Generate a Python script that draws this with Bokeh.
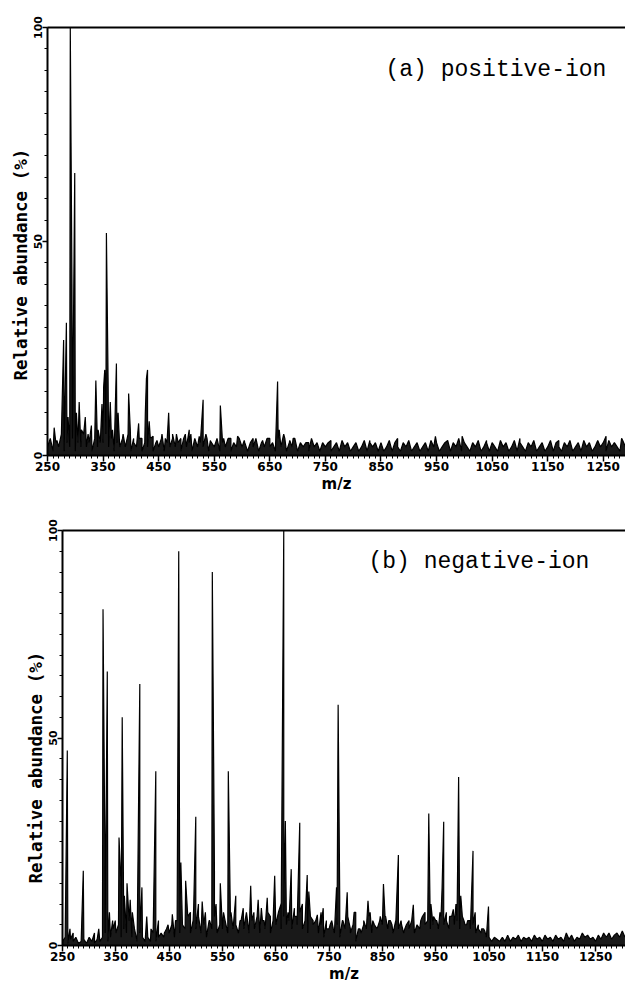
import math
import numpy as np
from bokeh.plotting import figure
from bokeh.models import Range1d, FixedTicker, LinearAxis, Label, ColumnDataSource, Title
from bokeh.embed import file_html
from bokeh.resources import INLINE

# ---------------- axis tick values ----------------
X_MAJOR = [250, 350, 450, 550, 650, 750, 850, 950, 1050, 1150, 1250]
X_MINOR = list(range(250, 1310, 10))
Y_MAJOR = [0, 50, 100]
Y_MINOR = list(range(0, 101, 5))

# ---------------- (a) positive-ion ----------------
pos_peak_mz = [262, 267, 279, 284, 287, 291, 294, 299, 302, 307, 311, 318, 323, 329,
               337, 341, 348, 351, 353, 356, 359, 363, 367, 374, 377, 386, 396, 399,
               405, 414, 420, 426, 428, 430, 433, 440, 447, 456, 462, 468, 475, 482,
               490, 498, 505, 508, 515, 523, 530, 537, 543, 555, 561, 567, 580, 592,
               604, 620, 637, 650, 664, 667, 677, 686, 692, 720, 760, 830, 880, 948,
               996, 1040, 1100, 1170, 1255, 1283]
pos_peak_int = [6.5, 3.5, 27, 31, 9, 100, 40, 66, 10, 12.5, 6, 9, 5, 7,
                17.5, 6, 12, 16, 20, 52, 18, 12.5, 6, 21.5, 10, 5, 14.5, 6,
                4, 7.5, 4, 10, 18, 20, 8, 4.5, 3.5, 5, 4, 10, 4, 5,
                4, 5, 6, 5, 4, 4.5, 13, 4, 3.5, 4, 11.7, 4, 4, 4.5,
                3.5, 4, 3.5, 4, 17.3, 6, 4, 3.5, 4, 3, 3.5, 3.5, 4, 4.5,
                4.5, 3.5, 4, 3.5, 4.5, 4]
# baseline trace, one reading every 5 m/z from 250
pos_noise_int = [2, 4, 1, 3, 2, 5, 1, 3, 2, 4, 1, 3, 2, 5, 2, 3, 1, 4, 2, 3,
                 3, 5, 2, 4, 1, 3, 2, 4, 2, 5, 1, 3, 2, 4, 1, 3, 2, 4, 1, 3,
                 2, 4, 1, 3, 2, 5, 2, 3, 1, 4, 2, 3, 1, 4, 2, 3, 2, 5, 1, 3,
                 2, 4, 1, 3, 2, 4, 1, 3, 2, 4, 2, 3, 1, 3, 2, 4, 1, 3, 2, 4,
                 2, 3, 1, 4, 2, 5, 1, 3, 2, 4, 1, 3, 2, 3, 1, 4, 2, 3, 1, 3,
                 2, 3, 1, 2, 3, 1, 3.5, 2, 3, 1, 2, 3, 1, 2, 3.5, 1, 3, 2, 3, 1,
                 3, 1, 2, 3.5, 1, 3, 2, 1, 3, 2, 3.5, 1, 2, 3, 1, 2, 3, 1, 3.5, 2,
                 3, 1, 2, 3, 3.5, 1, 3, 2, 4, 1, 3, 2, 1, 3, 2, 3.5, 1, 2, 3, 1,
                 3, 2, 1, 3.5, 2, 3, 1, 2, 3.5, 1, 3, 2, 1, 3, 2, 3.5, 1, 2, 3, 1,
                 2, 3.5, 1, 3, 2, 1, 3, 2, 3.5, 1, 2, 3, 1, 3.5, 2, 3, 1, 2, 3.5, 2,
                 3, 1, 3.5, 2, 3, 2, 1, 3.5, 2]

# ---------------- (b) negative-ion ----------------
neg_peak_mz = [259, 264, 270, 289, 300, 310, 318, 326, 330, 334, 338, 344, 349, 356,
               360, 362, 366, 371, 377, 381, 395, 399, 408, 416, 425, 430, 441, 448,
               456, 462, 468, 472, 481, 490, 496, 500, 505, 512, 518, 526, 531, 535,
               538, 546, 552, 561, 566, 575, 583, 589, 596, 603, 609, 617, 623, 628,
               634, 640, 648, 655, 660, 665, 668, 673, 679, 685, 690, 695, 700, 709,
               712, 720, 728, 735, 739, 745, 752, 758, 764, 767, 770, 776, 784, 790,
               797, 800, 808, 815, 823, 827, 832, 840, 846, 852, 856, 862, 868, 875,
               880, 886, 892, 900, 908, 915, 922, 930, 937, 941, 946, 952, 958, 962,
               965, 970, 976, 983, 988, 993, 997, 1003, 1008, 1014, 1020, 1024, 1030,
               1036, 1042, 1049]
neg_peak_int = [47, 4, 3, 18, 2, 3, 4, 81, 14, 66, 8, 6, 6, 26,
                14, 55, 12, 15, 11, 8, 63, 14, 7, 4, 42, 6, 3, 5,
                7.5, 6, 95, 20, 15.6, 8, 9, 31, 10, 10.6, 8, 6, 90, 18,
                10, 15, 8, 42, 8, 12, 6, 9, 7, 14.4, 8, 11, 9, 6,
                11.5, 7, 16.8, 8, 10, 100, 30, 8, 18.4, 9, 7, 29.6, 10, 17,
                13, 6, 7.4, 8, 9, 6, 5, 4, 14, 58, 11.5, 6, 12.8, 4,
                8, 8, 4, 5, 10.8, 8, 6, 4, 7, 14.8, 7, 6, 5, 6,
                21.8, 5, 4, 6, 9.8, 5, 6, 8, 31.8, 10, 7, 6, 8, 14,
                29.8, 8, 7, 8.7, 10, 40.6, 12, 6, 5, 6, 22.8, 8, 5,
                4, 3.5, 9.4]
neg_noise_int = [1, 2, 0.5, 1.5, 1, 2, 0.5, 1, 1.5, 0.5, 2, 1, 0.5, 1.5, 1, 2, 3, 1, 2, 4,
                 3, 5, 2, 4, 3, 6, 2, 4, 1, 3, 2, 1, 2, 1, 3, 1, 2, 3, 2, 4,
                 3, 5, 2, 6, 3, 5, 4, 7, 3, 6, 4, 7, 3, 5, 2, 6, 4, 7, 3, 5,
                 4, 6, 3, 7, 4, 5, 3, 6, 4, 8, 3, 6, 4, 7, 3, 6, 4, 8, 3, 6,
                 5, 8, 4, 7, 5, 6, 4, 7, 5, 8, 4, 6, 3, 7, 5, 6, 3, 5, 2, 4,
                 4, 6, 3, 5, 2, 6, 4, 7, 3, 5, 1, 4, 3, 6, 4, 7, 3, 5, 4, 6,
                 5, 7, 4, 6, 3, 5, 4, 6, 3, 5, 4, 6, 3, 5, 4, 7, 5, 6, 4, 5,
                 6, 4, 7, 5, 6, 4, 7, 5, 6, 4, 7, 5, 6, 4, 5, 3, 4, 3, 4, 2,
                 2, 1, 2, 1.5, 1, 2, 1, 2.5, 1, 2, 1.5, 2.5, 1, 2, 1.5, 2, 1, 2.5, 1.5, 2,
                 1, 2.5, 1.5, 2, 1, 2.5, 1.5, 2, 1, 3, 1.5, 2.5, 1, 2, 1.5, 3, 2, 2.5, 1.5, 2,
                 1, 2.5, 1.5, 3, 2, 3, 1.5, 2.5, 3, 2, 3.5, 2]

NOISE_START, NOISE_STEP = 250, 5


def make_panel(peak_mz, peak_int, noise_int, x_end, width, height, border_left,
               border_top, border_bottom, title, title_pos, ylab_offset):
    noise_mz = NOISE_START + NOISE_STEP * np.arange(len(noise_int))
    mz = np.concatenate([np.asarray(peak_mz, float), noise_mz.astype(float)])
    rel = np.concatenate([np.asarray(peak_int, float), np.asarray(noise_int, float)])
    order = np.argsort(mz, kind="stable")
    src = ColumnDataSource(dict(mz=mz[order], rel=rel[order], zero=np.zeros(len(mz))))

    p = figure(width=width, height=height,
               x_range=Range1d(250, x_end), y_range=Range1d(0, 100),
               output_backend="svg", toolbar_location=None,
               min_border_left=border_left, min_border_top=border_top,
               min_border_right=0, min_border_bottom=border_bottom)
    p.background_fill_color = "white"
    p.border_fill_color = "white"
    p.outline_line_color = None
    p.grid.visible = False

    p.varea(x="mz", y1="zero", y2="rel", source=src, fill_color="black", fill_alpha=0.9)
    p.line("mz", "rel", source=src, line_color="black", line_width=1.2)

    xa = p.xaxis[0]
    xa.ticker = FixedTicker(ticks=X_MAJOR, minor_ticks=X_MINOR)
    xa.axis_line_width = 2
    xa.major_tick_line_width = 1.5
    xa.major_tick_out = 6
    xa.major_tick_in = 0
    xa.minor_tick_out = 3
    xa.minor_tick_in = 0
    xa.major_label_standoff = 0
    xa.major_label_text_font = "DejaVu Sans"
    xa.major_label_text_font_style = "bold"
    xa.major_label_text_font_size = "12px"
    xa.major_label_text_color = "black"
    xa.axis_label = "m/z"
    xa.axis_label_standoff = 1
    xa.axis_label_text_font = "DejaVu Sans"
    xa.axis_label_text_font_style = "bold"
    xa.axis_label_text_font_size = "15px"
    xa.axis_label_text_color = "black"

    ya = p.yaxis[0]
    ya.ticker = FixedTicker(ticks=Y_MAJOR, minor_ticks=Y_MINOR)
    ya.axis_line_width = 2
    ya.major_tick_line_width = 1.5
    ya.major_tick_out = 5
    ya.major_tick_in = 0
    ya.minor_tick_out = 3
    ya.minor_tick_in = 0
    ya.major_label_standoff = 1
    ya.major_label_orientation = "vertical"
    ya.major_label_text_font = "DejaVu Sans"
    ya.major_label_text_font_style = "bold"
    ya.major_label_text_font_size = "11px"
    ya.major_label_text_color = "black"

    top = LinearAxis(ticker=FixedTicker(ticks=[]), axis_line_width=2,
                     major_tick_line_color=None, minor_tick_line_color=None,
                     major_label_text_font_size="0px")
    p.add_layout(top, "above")

    p.add_layout(Title(text="Relative abundance (%)", align="left", offset=ylab_offset,
                       standoff=0, text_font="DejaVu Sans Mono", text_font_style="bold",
                       text_font_size="17.5px", text_color="black"), "left")
    p.add_layout(Label(x=title_pos[0], y=title_pos[1], x_units="screen", y_units="screen",
                       text=title, text_align="left", text_baseline="alphabetic",
                       text_font="Liberation Mono", text_font_size="23px",
                       text_color="black"))
    return p


# frame a: page x 47..625, y 27..456 ; frame b: page x 62..625, y 530..947
pa = make_panel(pos_peak_mz, pos_peak_int, pos_noise_int, 1290, 625, 495, 47, 27, 39,
                "(a) positive-ion", (338, 386), 75)
pb = make_panel(neg_peak_mz, neg_peak_int, neg_noise_int, 1306, 625, 490, 62, 35, 38,
                "(b) negative-ion", (306, 384), 62)

open("out.html", "w").write(file_html([pa, pb], INLINE))
